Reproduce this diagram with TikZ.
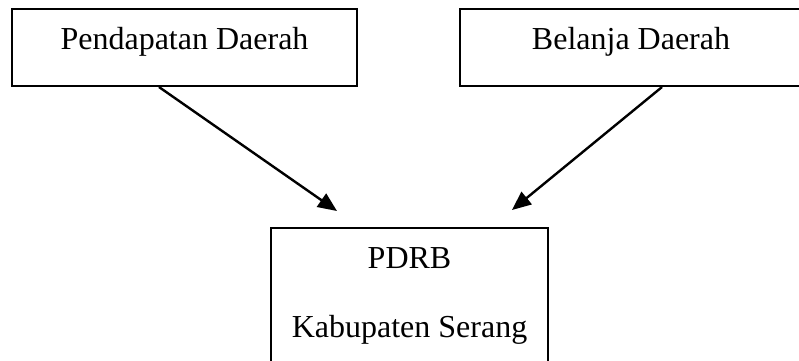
\documentclass[tikz,border=0pt]{standalone}
\usepackage{fontspec}
\setmainfont{Liberation Serif}
\usetikzlibrary{arrows.meta}
\begin{document}
\begin{tikzpicture}[x=1pt,y=-1pt,
  box/.style={draw=black,line width=2pt,rectangle,inner sep=0pt},
  lbl/.style={anchor=base,inner sep=0pt,font=\fontsize{32}{36}\selectfont},
  arr/.style={line width=2.4pt,-{Triangle[length=19pt,width=16pt]}}]
\useasboundingbox (0,0) rectangle (799,360);
\clip (0,0) rectangle (799,360);
\fill[white] (0,0) rectangle (799,360);
\node[box,minimum width=345pt,minimum height=77pt] (pd) at (184.5,47.5) {};
\node[box,minimum width=342pt,minimum height=77pt] (bd) at (631,47.5) {};
\node[box,minimum width=277pt,minimum height=140pt] (pdrb) at (409.5,298) {};
\node[lbl] (tpd) at (184.5,49) {Pendapatan Daerah};
\node[lbl] (tbd) at (631,49) {Belanja Daerah};
\node[lbl] (tpdrb) at (409.5,268) {PDRB};
\node[lbl] (tkab) at (409.5,337) {Kabupaten Serang};
\draw[arr] ([xshift=-25.5pt]pd.south) -- ([xshift=-72.5pt,yshift=16pt]pdrb.north);
\draw[arr] ([xshift=31pt]bd.south) -- ([xshift=102.5pt,yshift=17pt]pdrb.north);
\end{tikzpicture}
\end{document}
